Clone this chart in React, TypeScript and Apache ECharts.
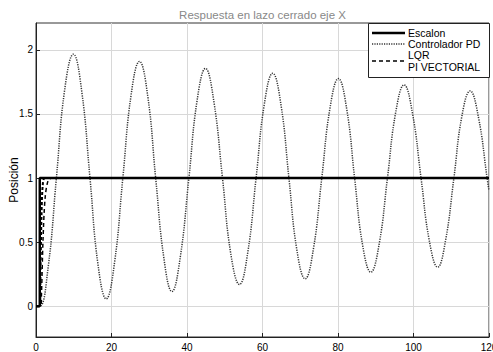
import { useEffect, useRef } from "react";
import * as echarts from "echarts";

const chartTitle = "Respuesta en lazo cerrado eje X";
const yAxisTitle = "Posición";
const seriesNames = ["Escalon", "Controlador PD", "LQR", "PI VECTORIAL"];
const xTickValues = [0, 20, 40, 60, 80, 100, 120];
const yTickValues = [0, 0.5, 1, 1.5, 2];

// [time, position]
const escalon: number[][] = [[0, 0], [1, 0], [1, 1], [120, 1]];

const controladorPD: number[][] = [
  [0, 0], [1, 0], [3.2, 0.3], [5.4, 1.0], [7.6, 1.69], [9.9, 1.966],
  [12.1, 1.68], [14.3, 1.0], [16.4, 0.33], [18.6, 0.058], [20.8, 0.34],
  [23.0, 1.0], [25.2, 1.65], [27.4, 1.91], [29.6, 1.64], [31.7, 1.0],
  [33.9, 0.37], [36.0, 0.115], [38.2, 0.38], [40.5, 1.0], [42.7, 1.61],
  [44.9, 1.855], [47.1, 1.6], [49.4, 1.0], [51.6, 0.41], [53.9, 0.17],
  [56.1, 0.42], [58.3, 1.0], [60.5, 1.58], [62.7, 1.818], [64.9, 1.57],
  [67.0, 1.0], [69.1, 0.44], [71.3, 0.214], [73.5, 0.45], [75.7, 1.0],
  [77.9, 1.55], [80.1, 1.776], [82.3, 1.54], [84.4, 1.0], [86.5, 0.48],
  [88.7, 0.266], [90.9, 0.485], [93.1, 1.0], [95.3, 1.515], [97.5, 1.727],
  [99.7, 1.51], [102.0, 1.0], [104.2, 0.51], [106.4, 0.305], [108.5, 0.515],
  [110.7, 1.0], [112.8, 1.48], [115.0, 1.68], [117.2, 1.475], [119.5, 1.0],
  [120, 0.9],
];

const lqr: number[][] = [[0, 0], [1, 0], [1.2, 0.3], [1.45, 0.7], [1.8, 0.95], [2.4, 1.0], [120, 1]];

const piVectorial: number[][] = [
  [0, 0], [1.2, 0], [1.43, 0.08], [1.86, 0.52], [2.4, 0.84], [3.2, 0.98], [4.2, 1.0], [120, 1],
];

const FONT = "'Liberation Sans', Arial, sans-serif";

export default function App() {
  const ref = useRef<HTMLDivElement>(null);
  useEffect(() => {
    if (!ref.current) return;
    const chart = echarts.init(ref.current, undefined, { renderer: "svg" });
    const gridL = 36, gridR = 4, gridT = 23, gridB = 15;
    const legX = 368, legY = 23, legW = 489 - 368, legH = 54;
    const lineX1 = legX + 4, lineX2 = legX + 37, textX = legX + 40;
    chart.setOption({
      animation: false,
      backgroundColor: "#fff",
      textStyle: { fontFamily: FONT },
      grid: {
        left: gridL, right: gridR, top: gridT, bottom: gridB,
        outerBoundsMode: "none", containLabel: false,
        show: true, borderColor: "#333", borderWidth: 1,
      },
      xAxis: {
        type: "value", min: 0, max: 120, interval: 20,
        axisLine: { show: true, onZero: false, lineStyle: { color: "#222" } },
        axisTick: { show: true, inside: true, length: 4, lineStyle: { color: "#222" } },
        axisLabel: { color: "#000", fontSize: 10, margin: 5, fontFamily: FONT,
          customValues: xTickValues, hideOverlap: false },
        splitLine: { show: true, lineStyle: { color: "#d8d8d8", width: 1 } },
      },
      yAxis: {
        type: "value", min: -0.24, max: 2.21,
        name: yAxisTitle, nameLocation: "middle", nameGap: 16, nameMoveOverlap: false,
        nameTextStyle: { color: "#000", fontSize: 12, fontFamily: FONT },
        axisLine: { show: true, onZero: false, lineStyle: { color: "#222" } },
        axisTick: { show: true, inside: true, length: 4, lineStyle: { color: "#222" },
          customValues: yTickValues },
        axisLabel: { color: "#000", fontSize: 10, margin: 3, fontFamily: FONT,
          customValues: yTickValues },
        splitLine: { show: true, lineStyle: { color: "#d8d8d8", width: 1 } },
      },
      series: [
        {
          name: seriesNames[0], type: "line", data: escalon, symbol: "none", z: 5,
          lineStyle: { color: "#000", width: 2.5, type: "solid" },
        },
        {
          name: seriesNames[1], type: "line", data: controladorPD, symbol: "none",
          smooth: 0.45, z: 4,
          lineStyle: { color: "#333", width: 1.5, type: [1.2, 1.2] },
        },
        {
          name: seriesNames[2], type: "line", data: lqr, symbol: "none", smooth: 0.3, z: 3,
          lineStyle: { color: "#000", width: 2, type: [3, 2] },
        },
        {
          name: seriesNames[3], type: "line", data: piVectorial, symbol: "none",
          smooth: 0.3, z: 3,
          lineStyle: { color: "#000", width: 1.5, type: [4, 3] },
        },
      ],
      graphic: [
        {
          type: "text", x: (gridL + 489) / 2, y: 15, z: 10,
          style: { text: chartTitle, textAlign: "center", textVerticalAlign: "middle",
            fontSize: 11.5, fill: "#888", fontFamily: FONT },
        },
        {
          type: "rect", z: 10,
          shape: { x: legX + 0.5, y: legY + 0.5, width: legW, height: legH },
          style: { fill: "#fff", stroke: "#222", lineWidth: 1 },
        },
        {
          type: "line", z: 11, shape: { x1: lineX1, y1: legY + 10, x2: lineX2, y2: legY + 10 },
          style: { stroke: "#000", lineWidth: 2.5 },
        },
        {
          type: "line", z: 11, shape: { x1: lineX1, y1: legY + 21, x2: lineX2, y2: legY + 21 },
          style: { stroke: "#333", lineWidth: 1.5, lineDash: [1.2, 1.2] },
        },
        {
          type: "line", z: 11, shape: { x1: lineX1, y1: legY + 38, x2: lineX2, y2: legY + 38 },
          style: { stroke: "#000", lineWidth: 1.5, lineDash: [4, 3] },
        },
        {
          type: "text", z: 11, x: textX, y: legY + 10,
          style: { text: seriesNames[0], textVerticalAlign: "middle", fontSize: 10.5, fill: "#000", fontFamily: FONT },
        },
        {
          type: "text", z: 11, x: textX, y: legY + 21,
          style: { text: seriesNames[1], textVerticalAlign: "middle", fontSize: 10.5, fill: "#000", fontFamily: FONT },
        },
        {
          type: "text", z: 11, x: textX, y: legY + 32,
          style: { text: seriesNames[2], textVerticalAlign: "middle", fontSize: 10.5, fill: "#000", fontFamily: FONT },
        },
        {
          type: "text", z: 11, x: textX, y: legY + 44,
          style: { text: seriesNames[3], textVerticalAlign: "middle", fontSize: 10.5, fill: "#000", fontFamily: FONT },
        },
      ],
    });
    return () => chart.dispose();
  }, []);
  return <div ref={ref} style={{ width: 493, height: 352, position: "fixed", left: 0, top: 0 }} />;
}
